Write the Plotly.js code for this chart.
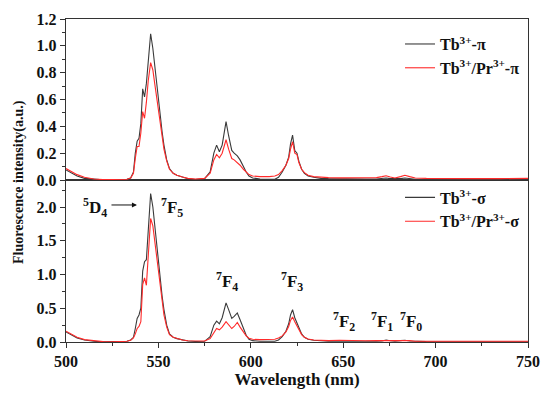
<!DOCTYPE html>
<html>
<head>
<meta charset="utf-8">
<script src="https://cdn.plot.ly/plotly-3.0.1.min.js"></script>
<style>html,body{margin:0;padding:0;background:#fff;}#chart{width:550px;height:394px;}</style>
</head>
<body>
<div id="chart"></div>
<script>
// Wavelength (nm)
const wavelength = [
  500, 503, 506, 510, 515, 520, 525, 530, 533, 535,
  536.5, 537.5, 538.5, 539.5, 540.5, 541.5, 542.5, 543.5, 544.5, 545.8,
  547, 548, 549, 550, 551, 552, 553, 554.5, 556, 558,
  560, 563, 566, 570, 575, 578, 580, 581.5, 583, 584.5,
  586.6, 588, 589.7, 591, 592.7, 594.2, 596, 597.5, 599, 601,
  605, 610, 613, 615, 617, 619, 620.5, 621.5, 622.6, 623.8,
  625, 626, 627.5, 629, 631, 634, 638, 642, 648, 655,
  662, 668, 671, 673.2, 675.5, 678, 681, 683.4, 686, 689,
  695, 705, 720, 735, 750
];
// Top panel: Tb3+-pi
const tbPi = [
  0.075, 0.05, 0.03, 0.012, 0.004, 0.001, 0.0, 0.002, 0.006, 0.015,
  0.06, 0.2, 0.29, 0.31, 0.42, 0.68, 0.62, 0.72, 0.9, 1.09,
  0.98, 0.85, 0.72, 0.6, 0.48, 0.36, 0.26, 0.15, 0.085, 0.05,
  0.035, 0.02, 0.01, 0.004, 0.01, 0.06, 0.2, 0.26, 0.21, 0.26,
  0.435, 0.33, 0.22, 0.2, 0.18, 0.15, 0.1, 0.06, 0.03, 0.015,
  0.008, 0.005, 0.006, 0.02, 0.06, 0.11, 0.17, 0.27, 0.335, 0.22,
  0.2, 0.14, 0.08, 0.05, 0.03, 0.02, 0.012, 0.01, 0.008, 0.008,
  0.008, 0.008, 0.01, 0.015, 0.01, 0.008, 0.01, 0.015, 0.01, 0.006,
  0.005, 0.004, 0.004, 0.004, 0.004
];
// Top panel: Tb3+/Pr3+-pi
const tbPrPi = [
  0.085, 0.06, 0.04, 0.02, 0.008, 0.003, 0.002, 0.003, 0.006, 0.015,
  0.05, 0.16, 0.25, 0.25, 0.35, 0.51, 0.46, 0.58, 0.74, 0.875,
  0.82, 0.72, 0.62, 0.52, 0.42, 0.32, 0.23, 0.14, 0.08, 0.05,
  0.035, 0.022, 0.012, 0.008, 0.012, 0.05, 0.15, 0.19, 0.165, 0.2,
  0.3, 0.23, 0.16, 0.15, 0.13, 0.11, 0.08, 0.06, 0.04, 0.03,
  0.025, 0.025, 0.03, 0.04, 0.07, 0.11, 0.16, 0.23, 0.285, 0.2,
  0.19, 0.13, 0.08, 0.055, 0.035, 0.025, 0.02, 0.018, 0.016, 0.015,
  0.016, 0.018, 0.025, 0.032, 0.022, 0.015, 0.025, 0.035, 0.025, 0.015,
  0.012, 0.01, 0.01, 0.01, 0.012
];
// Bottom panel: Tb3+-sigma
const tbSigma = [
  0.15, 0.1, 0.06, 0.03, 0.01, 0.003, 0.002, 0.005, 0.01, 0.03,
  0.07, 0.2, 0.35, 0.4, 0.5, 1.05, 1.19, 1.22, 1.6, 2.2,
  2.0, 1.72, 1.45, 1.18, 0.92, 0.68, 0.48, 0.25, 0.12, 0.07,
  0.05, 0.03, 0.015, 0.008, 0.01, 0.08, 0.25, 0.31, 0.27, 0.36,
  0.58, 0.48, 0.35, 0.38, 0.43, 0.33, 0.2, 0.1, 0.04, 0.02,
  0.01, 0.008, 0.01, 0.03, 0.08, 0.16, 0.27, 0.4, 0.48, 0.36,
  0.28, 0.2, 0.12, 0.07, 0.04, 0.025, 0.015, 0.01, 0.012, 0.008,
  0.008, 0.01, 0.015, 0.03, 0.018, 0.01, 0.02, 0.025, 0.015, 0.008,
  0.005, 0.004, 0.004, 0.004, 0.004
];
// Bottom panel: Tb3+/Pr3+-sigma
const tbPrSigma = [
  0.16, 0.11, 0.07, 0.035, 0.015, 0.006, 0.004, 0.006, 0.01, 0.025,
  0.06, 0.12, 0.2, 0.23, 0.3, 0.85, 0.95, 0.84, 1.35, 1.83,
  1.72, 1.5, 1.28, 1.04, 0.8, 0.58, 0.4, 0.22, 0.11, 0.07,
  0.05, 0.03, 0.018, 0.012, 0.015, 0.05, 0.14, 0.2, 0.18, 0.22,
  0.3, 0.25, 0.2, 0.23, 0.29, 0.22, 0.14, 0.09, 0.055, 0.04,
  0.035, 0.035, 0.04, 0.06, 0.09, 0.15, 0.23, 0.32, 0.37, 0.3,
  0.24, 0.18, 0.11, 0.07, 0.045, 0.03, 0.025, 0.02, 0.025, 0.018,
  0.018, 0.02, 0.02, 0.025, 0.02, 0.015, 0.02, 0.025, 0.02, 0.012,
  0.01, 0.01, 0.01, 0.01, 0.012
];
const seriesNames = ['Tb<sup>3+</sup>-π', 'Tb<sup>3+</sup>/Pr<sup>3+</sup>-π',
                     'Tb<sup>3+</sup>-σ', 'Tb<sup>3+</sup>/Pr<sup>3+</sup>-σ'];
const xTicks = [500, 550, 600, 650, 700, 750];
const topYTicks = [0.0, 0.2, 0.4, 0.6, 0.8, 1.0, 1.2];
const botYTicks = [0.0, 0.5, 1.0, 1.5, 2.0];
// Transition labels
const labelText = ['<sup>5</sup>D<sub>4</sub>', '<sup>7</sup>F<sub>5</sub>', '<sup>7</sup>F<sub>4</sub>',
                   '<sup>7</sup>F<sub>3</sub>', '<sup>7</sup>F<sub>2</sub>', '<sup>7</sup>F<sub>1</sub>', '<sup>7</sup>F<sub>0</sub>'];
const labelX = [515.7, 557.4, 587.1, 622.3, 650.4, 671.0, 686.7];
const labelY = [1.99, 1.99, 0.89, 0.89, 0.31, 0.31, 0.31];

const DARK = '#3a3a3a', RED = '#ff2a2a';
const FONT = 'Liberation Serif';
const b = s => '<b>' + s + '</b>';

const traces = [
  {x: wavelength, y: tbPi, name: b(seriesNames[0]), xaxis: 'x2', yaxis: 'y2', legend: 'legend',
   mode: 'lines', line: {color: DARK, width: 1.1}},
  {x: wavelength, y: tbPrPi, name: b(seriesNames[1]), xaxis: 'x2', yaxis: 'y2', legend: 'legend',
   mode: 'lines', line: {color: RED, width: 1.1}},
  {x: wavelength, y: tbSigma, name: b(seriesNames[2]), xaxis: 'x', yaxis: 'y', legend: 'legend2',
   mode: 'lines', line: {color: DARK, width: 1.1}},
  {x: wavelength, y: tbPrSigma, name: b(seriesNames[3]), xaxis: 'x', yaxis: 'y', legend: 'legend2',
   mode: 'lines', line: {color: RED, width: 1.1}}
];

const axisCommon = {
  showline: true, linecolor: '#333', linewidth: 1.2, mirror: true,
  showgrid: false, zeroline: false,
  ticks: 'outside', ticklen: 5, tickwidth: 1, tickcolor: '#333',
  tickfont: {family: FONT, size: 16, color: '#111', weight: 'bold'}
};
const split = 162 / 323;

const annotations = labelText.map((t, i) => ({
  text: b(t), x: labelX[i], y: labelY[i], xref: 'x', yref: 'y', showarrow: false,
  xanchor: 'center', yanchor: 'middle',
  font: {family: FONT, size: 17, color: '#111'}
}));
annotations.push({
  text: '', x: 538.4, y: 2.03, xref: 'x', yref: 'y', axref: 'x', ayref: 'y', ax: 523.8, ay: 2.03,
  showarrow: true, arrowhead: 2, arrowsize: 1, arrowwidth: 1, arrowcolor: '#111'
});
annotations.push({
  text: '<b>Fluorescence intensity(a.u.)</b>', xref: 'paper', yref: 'paper', x: -0.102, y: 0.495,
  xanchor: 'center', yanchor: 'middle',
  textangle: -90, showarrow: false, font: {family: FONT, size: 14, color: '#111'}
});

const legendCommon = {
  xref: 'paper', yref: 'paper', xanchor: 'left', yanchor: 'top',
  bgcolor: 'rgba(0,0,0,0)', borderwidth: 0, itemwidth: 30, tracegroupgap: 0,
  font: {family: FONT, size: 16, color: '#111'}
};

const layout = {
  width: 550, height: 394,
  margin: {l: 66, r: 22, t: 19, b: 52},
  paper_bgcolor: '#fff', plot_bgcolor: '#fff',
  font: {family: FONT},
  showlegend: true,
  xaxis: Object.assign({}, axisCommon, {
    range: [500, 750], tickvals: xTicks, anchor: 'y', domain: [0, 1],
    minor: {dtick: 25, ticks: 'outside', ticklen: 3, tickcolor: '#333'},
    title: {text: '<b>Wavelength (nm)</b>', font: {family: FONT, size: 17, color: '#111'}, standoff: 2}
  }),
  xaxis2: Object.assign({}, axisCommon, {
    range: [500, 750], tickvals: xTicks, anchor: 'y2', matches: 'x',
    ticks: '', showticklabels: false
  }),
  yaxis: Object.assign({}, axisCommon, {
    range: [0, 2.4], tickvals: botYTicks, ticktext: botYTicks.map(v => v.toFixed(1)),
    domain: [0, split], anchor: 'x',
    minor: {dtick: 0.25, ticks: 'outside', ticklen: 3, tickcolor: '#333'}
  }),
  yaxis2: Object.assign({}, axisCommon, {
    range: [0, 1.2], tickvals: topYTicks, ticktext: topYTicks.map(v => v.toFixed(1)),
    domain: [split, 1], anchor: 'x2',
    minor: {dtick: 0.1, ticks: 'outside', ticklen: 3, tickcolor: '#333'}
  }),
  legend: Object.assign({}, legendCommon, {x: 0.723, y: 0.975}),
  legend2: Object.assign({}, legendCommon, {x: 0.723, y: 0.5}),
  annotations: annotations
};

Plotly.newPlot('chart', traces, layout, {displayModeBar: false, staticPlot: true});
</script>
</body>
</html>
